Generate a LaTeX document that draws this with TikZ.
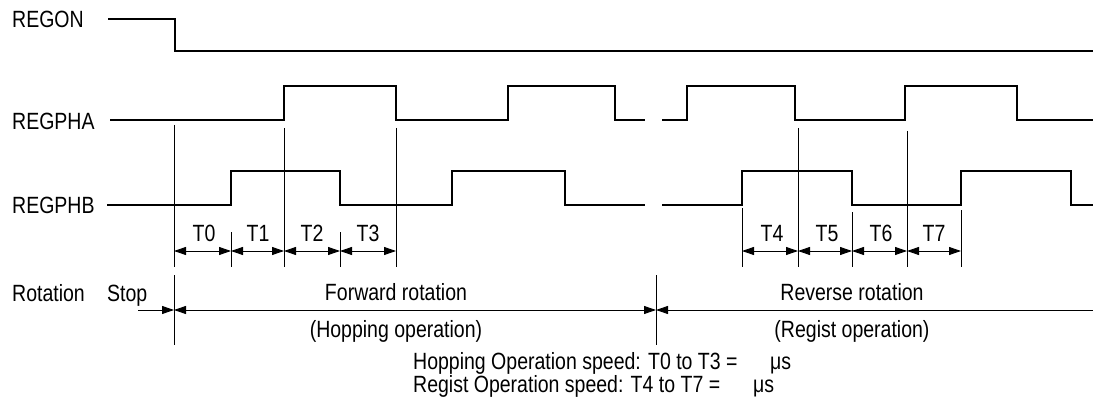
\documentclass[tikz,border=0pt]{standalone}
\usepackage{fontspec}
\setmainfont{Liberation Sans}[FakeStretch=0.83]
\usetikzlibrary{arrows.meta}
\begin{document}
\begin{tikzpicture}[x=1pt,y=-1pt,
  wave/.style={line width=1.1pt,line join=miter},
  guide/.style={line width=0.9pt},
  dim/.style={line width=0.9pt,{Triangle[length=12pt,width=8pt]}-{Triangle[length=12pt,width=8pt]}},
  dimr/.style={line width=0.9pt,-{Triangle[length=12pt,width=8pt]}},
  diml/.style={line width=0.9pt,{Triangle[length=12pt,width=8pt]}-},
  lbl/.style={inner sep=0pt,anchor=base west,font=\fontsize{23.5}{27}\selectfont},
  clbl/.style={inner sep=0pt,anchor=base,font=\fontsize{23.5}{27}\selectfont}]
\useasboundingbox (0,0) rectangle (1093,417);
% signal labels
\node[lbl] (lregon) at (12,28) {REGON};
\node[lbl] (lpha) at (12,130) {REGPHA};
\node[lbl] (lphb) at (12,213) {REGPHB};
% waveforms
\draw[wave] (108,19) -| (175,51) -- (1093,51);
\draw[wave] (110,120) -- (284,120) -- (284,86) -- (396,86) -- (396,120) -- (508,120) -- (508,86) -- (615,86) -- (615,120) -- (645,120);
\draw[wave] (662,120) -- (687,120) -- (687,86) -- (795,86) -- (795,120) -- (905,120) -- (905,86) -- (1017,86) -- (1017,120) -- (1093,120);
\draw[wave] (107,205) -- (231,205) -- (231,171) -- (340,171) -- (340,205) -- (452,205) -- (452,171) -- (565,171) -- (565,205) -- (645,205);
\draw[wave] (662,205) -- (742,205) -- (742,171) -- (852,171) -- (852,205) -- (961,205) -- (961,171) -- (1071,171) -- (1071,205) -- (1093,205);
% guide lines
\coordinate (g0t) at (174,125); \coordinate (g0b) at (174,267);
\coordinate (g1t) at (231,232); \coordinate (g1b) at (231,267);
\coordinate (g2t) at (284,128); \coordinate (g2b) at (284,267);
\coordinate (g3t) at (340,232); \coordinate (g3b) at (340,267);
\coordinate (g4t) at (396,128); \coordinate (g4b) at (396,267);
\coordinate (h0t) at (742,208); \coordinate (h0b) at (742,267);
\coordinate (h1t) at (798,128); \coordinate (h1b) at (798,267);
\coordinate (h2t) at (852,212); \coordinate (h2b) at (852,267);
\coordinate (h3t) at (907,131); \coordinate (h3b) at (907,267);
\coordinate (h4t) at (961,210); \coordinate (h4b) at (961,267);
\foreach \g in {g0,g1,g2,g3,g4,h0,h1,h2,h3,h4} \draw[guide] (\g t) -- (\g b);
% dimension arrows
\coordinate (d0) at (174,251); \coordinate (d1) at (231,251); \coordinate (d2) at (284,251);
\coordinate (d3) at (340,251); \coordinate (d4) at (396,251);
\coordinate (e0) at (742,251); \coordinate (e1) at (798,251); \coordinate (e2) at (852,251);
\coordinate (e3) at (907,251); \coordinate (e4) at (961,251);
\draw[dim] (d0) -- (d1); \draw[dim] (d1) -- (d2); \draw[dim] (d2) -- (d3); \draw[dim] (d3) -- (d4);
\draw[dim] (e0) -- (e1); \draw[dim] (e1) -- (e2); \draw[dim] (e2) -- (e3); \draw[dim] (e3) -- (e4);
\node[clbl] (t0) at (204,241) {T0};
\node[clbl] (t1) at (258,241) {T1};
\node[clbl] (t2) at (312,241) {T2};
\node[clbl] (t3) at (368,241) {T3};
\node[clbl] (t4) at (772,241) {T4};
\node[clbl] (t5) at (827,241) {T5};
\node[clbl] (t6) at (881,241) {T6};
\node[clbl] (t7) at (934,241) {T7};
% rotation section
\node[lbl] (lrot) at (12,301) {Rotation};
\node[lbl] (lstop) at (107,301) {Stop};
\coordinate (r0t) at (174,275); \coordinate (r0b) at (174,345);
\coordinate (r1t) at (656,275); \coordinate (r1b) at (656,345);
\draw[guide] (r0t) -- (r0b);
\draw[guide] (r1t) -- (r1b);
\coordinate (s0) at (138,310); \coordinate (s1) at (174,310);
\coordinate (s2) at (656,310); \coordinate (s3) at (1093,310);
\draw[dimr] (s0) -- (s1);
\draw[dim] (s1) -- (s2);
\draw[diml] (s2) -- (s3);
\node[clbl] (fwd) at (396,300) {Forward rotation};
\node[clbl] (hop) at (396,337) {(Hopping operation)};
\node[clbl] (rev) at (852,300) {Reverse rotation};
\node[clbl] (reg) at (852,337) {(Regist operation)};
% bottom notes
\node[lbl] (n1) at (413,369) {Hopping Operation speed: T0 to T3 =};
\node[lbl] (u1) at (770,369) {μs};
\node[lbl] (n2) at (413,392) {Regist Operation speed: T4 to T7 =};
\node[lbl] (u2) at (753,392) {μs};
\end{tikzpicture}
\end{document}
